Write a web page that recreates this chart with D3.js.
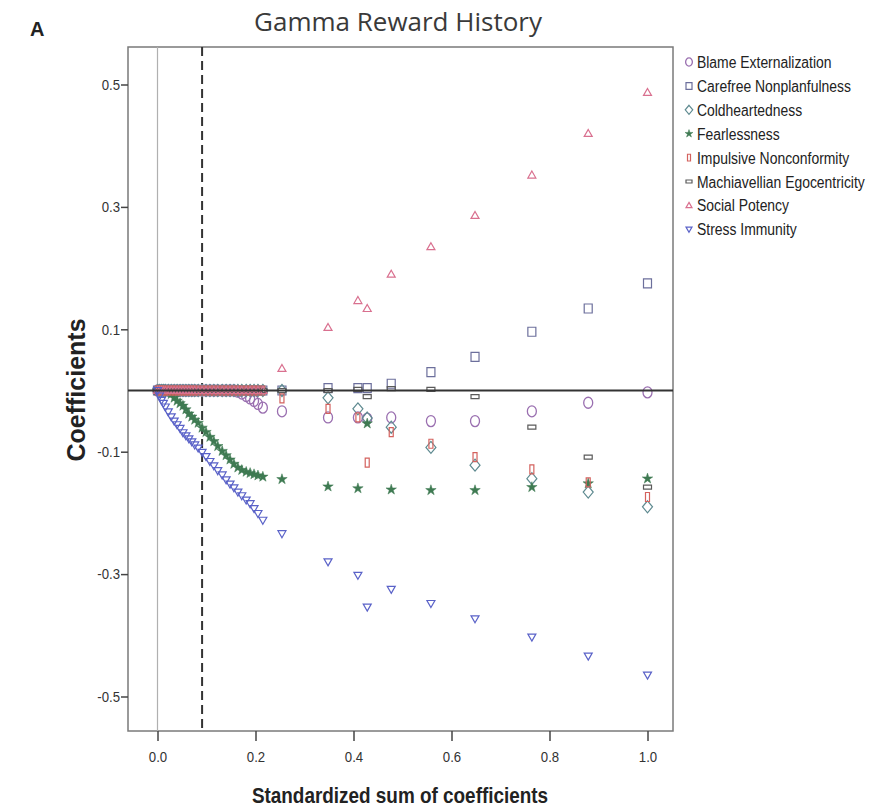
<!DOCTYPE html>
<html>
<head>
<meta charset="utf-8">
<script src="https://cdn.jsdelivr.net/npm/d3@7"></script>
<style>
  body { margin: 0; background: #fff; }
  svg text { fill: #222; }
</style>
</head>
<body>
<svg id="chart" width="893" height="809"></svg>
<script>
// steps of the lasso path (standardized sum of coefficients)
let steps = [0.000, 0.004, 0.008, 0.012, 0.016, 0.022, 0.028, 0.034, 0.040, 0.046, 0.052,
  0.058, 0.064, 0.070, 0.076, 0.083, 0.091, 0.099, 0.107, 0.115, 0.123, 0.132, 0.140,
  0.148, 0.156, 0.164, 0.172, 0.181, 0.189, 0.197, 0.205, 0.215,
  0.254, 0.348, 0.409, 0.428, 0.477, 0.558, 0.648, 0.764, 0.879, 1.000];

let blame = [0, 0, 0, 0, 0, 0, 0, 0, 0, 0, 0, 0, 0, 0, 0, 0, 0, 0, 0, 0, 0, 0, 0,
  0, 0, -0.002, -0.005, -0.009, -0.013, -0.017, -0.022, -0.028,
  -0.034, -0.044, -0.044, -0.046, -0.044, -0.050, -0.050, -0.034, -0.020, -0.003];
let carefree = [0, 0, 0, 0, 0, 0, 0, 0, 0, 0, 0, 0, 0, 0, 0, 0, 0, 0, 0, 0, 0, 0, 0,
  0, 0, 0, 0, 0, 0, 0, 0, 0,
  0, 0.004, 0.004, 0.004, 0.011, 0.030, 0.055, 0.096, 0.134, 0.175];
let coldheart = [0, 0, 0, 0, 0, 0, 0, 0, 0, 0, 0, 0, 0, 0, 0, 0, 0, 0, 0, 0, 0, 0, 0,
  0, 0, 0, 0, 0, 0, 0, 0, 0,
  0, -0.012, -0.030, -0.045, -0.060, -0.093, -0.122, -0.144, -0.166, -0.190];
let fearless = [0, 0, 0, 0, 0, -0.002, -0.006, -0.012, -0.017, -0.021, -0.025, -0.031,
  -0.038, -0.043, -0.048, -0.053, -0.061, -0.068, -0.076, -0.083, -0.091, -0.099, -0.106,
  -0.113, -0.120, -0.126, -0.130, -0.133, -0.135, -0.137, -0.139, -0.141,
  -0.145, -0.157, -0.160, -0.054, -0.162, -0.163, -0.163, -0.158, -0.152, -0.144];
let impulsive = [0, 0, 0, 0, 0, 0, 0, 0, 0, 0, 0, 0, 0, 0, 0, 0, 0, 0, 0, 0, 0, 0, 0,
  0, 0, 0, 0, 0, 0, 0, 0, 0,
  -0.013, -0.030, -0.044, -0.118, -0.068, -0.087, -0.109, -0.129, -0.150, -0.174];
let machiavellian = [0, 0, 0, 0, 0, 0, 0, 0, 0, 0, 0, 0, 0, 0, 0, 0, 0, 0, 0, 0, 0, 0, 0,
  0, 0, 0, 0, 0, 0, 0, 0, 0,
  0, 0, 0.002, -0.010, 0.003, 0.002, -0.010, -0.060, -0.109, -0.158];
let social = [0, 0, 0, 0, 0, 0, 0, 0, 0, 0, 0, 0, 0, 0, 0, 0, 0, 0, 0, 0, 0, 0, 0,
  0, 0, 0, 0, 0, 0, 0, 0, 0,
  0.036, 0.103, 0.147, 0.134, 0.190, 0.235, 0.286, 0.352, 0.420, 0.487];
let stress = [0, -0.009, -0.016, -0.021, -0.027, -0.035, -0.043, -0.050, -0.056, -0.062,
  -0.069, -0.074, -0.079, -0.084, -0.089, -0.094, -0.101, -0.108, -0.116, -0.123, -0.131,
  -0.138, -0.146, -0.153, -0.159, -0.166, -0.172, -0.179, -0.185, -0.193, -0.201, -0.212,
  -0.234, -0.280, -0.302, -0.354, -0.325, -0.348, -0.373, -0.403, -0.434, -0.465];

let seriesNames = ["Blame Externalization", "Carefree Nonplanfulness", "Coldheartedness",
  "Fearlessness", "Impulsive Nonconformity", "Machiavellian Egocentricity",
  "Social Potency", "Stress Immunity"];
let seriesValues = [blame, carefree, coldheart, fearless, impulsive, machiavellian, social, stress];
let seriesColors = ["#9a6fb0", "#6c6f9c", "#5e8a90", "#3f7a52", "#d4625e", "#5a5a5a", "#d9708f", "#5a62c8"];
let seriesShapes = ["circle", "square", "diamond", "star", "tall", "wide", "up", "down"];

let xTicks = [0.0, 0.2, 0.4, 0.6, 0.8, 1.0];
let yTicks = [0.5, 0.3, 0.1, -0.1, -0.3, -0.5];
let cutoff = 0.091;

// layout
let svg = d3.select("#chart");
let plotLeft = 128, plotRight = 673, plotTop = 47, plotBottom = 731;
let narrow = "'Liberation Sans', Arial, sans-serif";

let x = d3.scaleLinear().domain([0, 1]).range([157.5, 647.5]);
let y = d3.scaleLinear().domain([-0.5, 0.5]).range([696.5, 84.5]);

function shapePath(shape, s) {
  // s = scale factor, 1 for plot markers
  switch (shape) {
    case "square": return `M${-4 * s},${-4.5 * s}h${8 * s}v${9 * s}h${-8 * s}Z`;
    case "diamond": return `M0,${-6 * s}L${5 * s},0L0,${6 * s}L${-5 * s},0Z`;
    case "tall": return `M${-2 * s},${-4.5 * s}h${4 * s}v${9 * s}h${-4 * s}Z`;
    case "wide": return `M${-4 * s},${-2 * s}h${8 * s}v${4 * s}h${-8 * s}Z`;
    case "up": return `M0,${-4 * s}L${4 * s},${3 * s}L${-4 * s},${3 * s}Z`;
    case "down": return `M0,${4 * s}L${4 * s},${-3 * s}L${-4 * s},${-3 * s}Z`;
    case "star": return d3.symbol().type(d3.symbolStar).size(34 * s * s)();
    default: return null;
  }
}

function drawMarker(g, shape, color, s) {
  if (shape === "circle") {
    g.append("ellipse").
    attr("rx", 4.5 * s).
    attr("ry", 5.5 * s).
    attr("fill", "none").
    attr("stroke", color).
    attr("stroke-width", 1.3);
  } else if (shape === "star") {
    g.append("path").
    attr("d", shapePath(shape, s)).
    attr("fill", color).
    attr("stroke", color).
    attr("stroke-width", 0.5);
  } else {
    g.append("path").
    attr("d", shapePath(shape, s)).
    attr("fill", "none").
    attr("stroke", color).
    attr("stroke-width", 1.2);
  }
}

// frame
svg.append("rect").
attr("x", plotLeft).
attr("y", plotTop).
attr("width", plotRight - plotLeft).
attr("height", plotBottom - plotTop).
attr("fill", "none").
attr("stroke", "#7a7a7a").
attr("stroke-width", 1.5);

// reference lines
svg.append("line").
attr("x1", x(0)).attr("x2", x(0)).
attr("y1", plotTop).attr("y2", plotBottom).
attr("stroke", "#b0b0b0").
attr("stroke-width", 1.2);

svg.append("line").
attr("x1", x(cutoff)).attr("x2", x(cutoff)).
attr("y1", plotTop).attr("y2", plotBottom).
attr("stroke", "#333").
attr("stroke-width", 2).
attr("stroke-dasharray", "9,5");

// axes
let fmt = d => d.toFixed(1);
let xAxis = d3.axisBottom(x).tickValues(xTicks).tickFormat(fmt).tickSize(10).tickSizeOuter(0);
let yAxis = d3.axisLeft(y).tickValues(yTicks).tickFormat(fmt).tickSize(7).tickSizeOuter(0);

let gx = svg.append("g").attr("transform", `translate(0,${plotBottom})`).call(xAxis);
let gy = svg.append("g").attr("transform", `translate(${plotLeft},0)`).call(yAxis);
[gx, gy].forEach(g => {
  g.select(".domain").remove();
  g.selectAll(".tick line").attr("stroke", "#444").attr("stroke-width", 1.5);
  g.selectAll(".tick text").
  attr("font-family", narrow).
  attr("font-size", 15).
  attr("transform", "scale(0.88,1)").
  style("fill", "#333");
});
gx.selectAll(".tick text").attr("dy", "1.2em");
gy.selectAll(".tick text").attr("x", -9).attr("dx", 0);

// points, drawn series by series
seriesValues.forEach((vals, i) => {
  let pts = svg.append("g").attr("class", "series");
  vals.forEach((v, j) => {
    let g = pts.append("g").attr("transform", `translate(${x(steps[j])},${y(v)})`);
    drawMarker(g, seriesShapes[i], seriesColors[i], 1);
  });
});

// zero line on top
svg.append("line").
attr("x1", plotLeft).attr("x2", plotRight).
attr("y1", y(0)).attr("y2", y(0)).
attr("stroke", "#333").
attr("stroke-width", 1.8);

// legend
let legend = svg.append("g").attr("transform", "translate(689,62)");
seriesNames.forEach((name, i) => {
  let row = legend.append("g").attr("transform", `translate(0,${i * 23.9})`);
  drawMarker(row.append("g"), seriesShapes[i], seriesColors[i], 0.75);
  row.append("text").
  attr("transform", "translate(8,6) scale(0.87,1)").
  attr("font-family", narrow).
  attr("font-size", 16).
  text(name);
});

// titles
svg.append("text").
attr("x", 398).
attr("y", 31).
attr("text-anchor", "middle").
attr("font-family", "'Open Sans', sans-serif").
attr("font-size", 26).
style("fill", "#3a3a3a").
text("Gamma Reward History");

svg.append("text").
attr("x", 30).
attr("y", 36).
attr("font-family", "'Liberation Sans', Arial, sans-serif").
attr("font-weight", "bold").
attr("font-size", 20).
text("A");

svg.append("text").
attr("transform", "translate(400,803) scale(0.86,1)").
attr("text-anchor", "middle").
attr("font-family", narrow).
attr("font-weight", "bold").
attr("font-size", 22).
text("Standardized sum of coefficients");

svg.append("text").
attr("transform", "translate(85,390) rotate(-90)").
attr("text-anchor", "middle").
attr("font-family", "'Liberation Sans', Arial, sans-serif").
attr("font-weight", "bold").
attr("font-size", 25).
text("Coefficients");
</script>
</body>
</html>
